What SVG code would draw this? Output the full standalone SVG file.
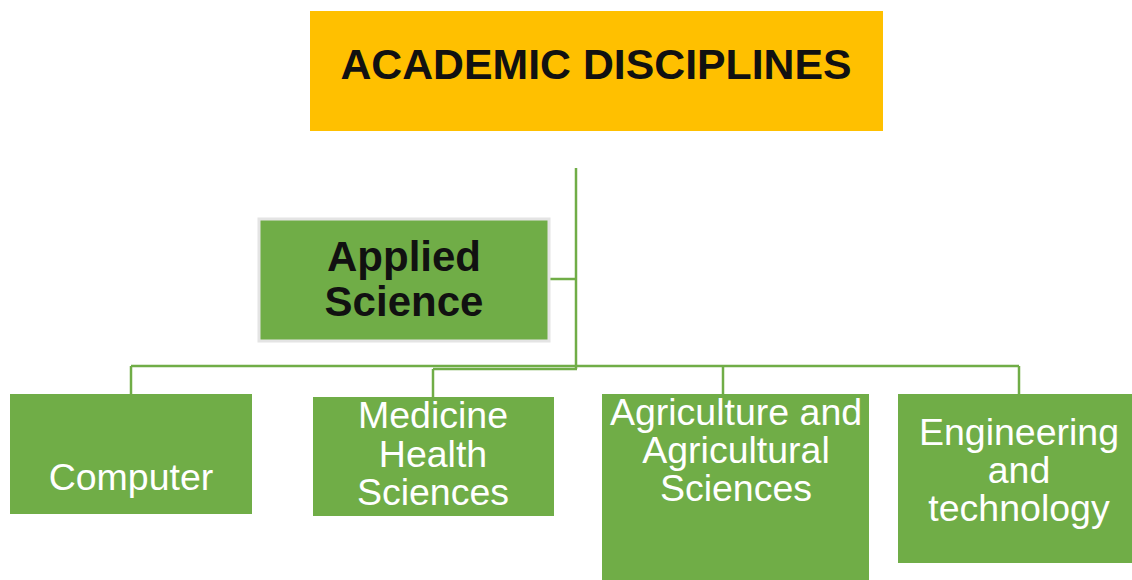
<svg xmlns="http://www.w3.org/2000/svg" width="1132" height="580" viewBox="0 0 1132 580">
  <style>
    .box { fill: #70AD47; }
    .lbl { font-family: "Liberation Sans", Arial, sans-serif; font-size: 37.5px; fill: #ffffff; text-anchor: middle; }
    .bold { font-family: "Liberation Sans", Arial, sans-serif; font-weight: bold; fill: #111111; text-anchor: middle; }
    .conn { stroke: #70AD47; stroke-width: 2.5; fill: none; }
  </style>
  <rect width="1132" height="580" fill="#ffffff"/>
  <g id="connectors">
    <line class="conn" x1="576" y1="168" x2="576" y2="369"/>
    <line class="conn" x1="549" y1="279" x2="576" y2="279"/>
    <line class="conn" x1="131" y1="366" x2="1019" y2="366"/>
    <line class="conn" x1="433" y1="369" x2="577" y2="369"/>
    <line class="conn" x1="131" y1="366" x2="131" y2="394"/>
    <line class="conn" x1="433" y1="369" x2="433" y2="397"/>
    <line class="conn" x1="723" y1="366" x2="723" y2="394"/>
    <line class="conn" x1="1019" y1="366" x2="1019" y2="394"/>
  </g>
  <g id="academic-disciplines">
    <rect x="310" y="11" width="573" height="120" fill="#FFC000"/>
    <text class="bold" x="596" y="79" font-size="42.8">ACADEMIC DISCIPLINES</text>
  </g>
  <g id="applied-science">
    <rect x="259" y="219" width="290" height="122" class="box" stroke="#e4e4e4" stroke-width="3"/>
    <text class="bold" x="404" y="271" font-size="42">Applied</text>
    <text class="bold" x="404" y="316" font-size="42">Science</text>
  </g>
  <g id="computer">
    <rect x="10" y="394" width="242" height="120" class="box"/>
    <text class="lbl" x="131" y="490">Computer</text>
  </g>
  <g id="medicine">
    <rect x="313" y="397" width="241" height="119" class="box"/>
    <text class="lbl" x="433" y="428">Medicine</text>
    <text class="lbl" x="433" y="467">Health</text>
    <text class="lbl" x="433" y="505">Sciences</text>
  </g>
  <g id="agriculture">
    <rect x="602" y="394" width="267" height="190" class="box"/>
    <text class="lbl" x="736" y="425">Agriculture and</text>
    <text class="lbl" x="736" y="463">Agricultural</text>
    <text class="lbl" x="736" y="501">Sciences</text>
  </g>
  <g id="engineering">
    <rect x="898" y="394" width="240" height="169" class="box"/>
    <text class="lbl" x="1019" y="445">Engineering</text>
    <text class="lbl" x="1019" y="483">and</text>
    <text class="lbl" x="1019" y="521">technology</text>
  </g>
</svg>
